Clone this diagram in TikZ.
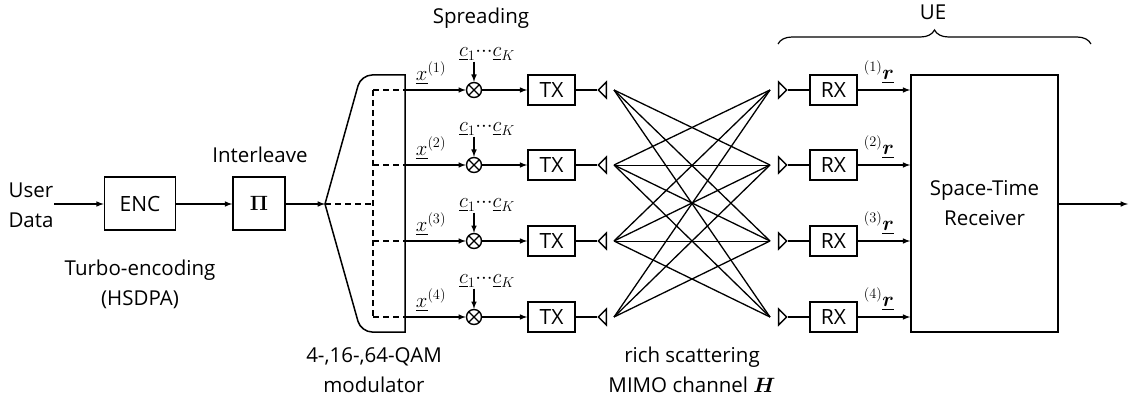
\documentclass[tikz,border=0pt]{standalone}
\usepackage{amsmath, amssymb}
\usepackage{fontspec}
\setmainfont{Open Sans}
\usetikzlibrary{arrows}
\usetikzlibrary{shapes.geometric}
\usetikzlibrary{decorations.pathreplacing}
\tikzset{
        wire/.style={line width=1.5pt},
        wire_dashed/.style={line width=1.5pt, dash pattern=on 6pt off 4pt},
        node_text/.style={align=center,inner sep=0pt,font=\fontsize{20.5}{30}\selectfont},
        node_math/.style={inner sep=0pt,font=\fontsize{20}{22}\selectfont},
        % Processing blocks
        node_box/.style={rectangle, draw=black, line width=1.6pt, fill=white, inner sep=0pt, minimum width=47pt, minimum height=30pt, font=\fontsize{21}{24}\selectfont},
        % Code multiplier
        node_mixer/.style={circle, draw=black, line width=1.4pt, fill=white, inner sep=0pt, minimum size=15pt,
            path picture={\draw[line width=1.2pt] (path picture bounding box.north west) -- (path picture bounding box.south east)
                (path picture bounding box.north east) -- (path picture bounding box.south west);}},
        % Antennas
        node_antenna/.style={isosceles triangle, isosceles triangle apex angle=90, draw=black, line width=1.4pt, fill=white, inner sep=0pt, minimum height=8pt, minimum width=15pt}
}
\begin{document}
\begin{tikzpicture}[x=1pt, y=-1pt, >=latex, wire]
    \useasboundingbox (0,0) rectangle (1135,401);

    % Encoder chain
    \node[node_text] (user) at (31,205) {User\\Data};
    \node[node_box, minimum width=71pt, minimum height=53pt] (enc) at (140,203.5) {ENC};
    \node[node_box, minimum width=52pt, minimum height=53pt] (pi) at (259,203.5) {$\boldsymbol{\Pi}$};
    \coordinate (mod_tip) at (325,204);
    \coordinate (mod_split) at (373,204);
    \draw[->] (user.east |- mod_tip) -- (enc.west |- mod_tip);
    \draw[->] (enc.east |- mod_tip) -- (pi.west |- mod_tip);
    \draw[->] (pi.east |- mod_tip) -- (mod_tip);
    \draw (405,332) -- (405,75) [rounded corners=11pt] -- (361,75) [sharp corners] -- (mod_tip) [rounded corners=11pt] -- (361,332) [sharp corners] -- cycle;
    \draw[wire_dashed] (mod_tip) -- (mod_split);
    \draw[wire_dashed] (373,90) -- (373,317);

    % One row per antenna
    \foreach \y/\i in {90/1,165/2,241/3,317/4} {
        \coordinate (mod_out\i) at (405,\y);
        \node[node_mixer] (mix\i) at (474,\y) {};
        \node[node_box] (tx\i) at (551.5,\y) {TX};
        \node[node_antenna, shape border rotate=180] (atx\i) at (603,\y) {};
        \coordinate (ch_in\i) at (614,\y);
        \coordinate (ch_out\i) at (770,\y);
        \node[node_antenna] (arx\i) at (782,\y) {};
        \node[node_box] (rx\i) at (833.5,\y) {RX};
        \node[node_math] (x\i) at (431,\y-17) {$\underline{x}^{(\i)}$};
        \node[node_math] (c\i) at (487,\y-36) {$\underline{c}_1{\cdot}{\cdot}{\cdot}\underline{c}_K$};
        \node[node_math, anchor=south] (r\i) at (879,\y-6) {$^{(\i)}\underline{\boldsymbol{r}}$};
        \draw[wire_dashed] (373,\y) -- (mod_out\i);
        \draw[->] (mod_out\i) -- (mix\i);
        \draw[->] (mix\i) -- (tx\i);
        \draw[->] (c\i.south -| mix\i) -- (mix\i);
        \draw (tx\i) -- (atx\i.apex);
        \draw (arx\i.apex) -- (rx\i);
    }

    % Channel
    \foreach \i/\j in {1/2,1/3,1/4,2/1,2/3,2/4,3/1,3/2,3/4,4/1,4/2,4/3} {
        \draw[line width=1.3pt] (ch_in\i) -- (ch_out\j);
    }
    \foreach \i in {2,3} {
        \draw[line width=0.8pt] (ch_in\i) -- (ch_out\i);
    }

    % Receiver
    \node[node_box, minimum width=147pt, minimum height=257pt, align=center, font=\fontsize{20.5}{30}\selectfont] (recv) at (984.5,203.5) {Space-Time\\Receiver};
    \coordinate (out) at (1128,204);
    \foreach \i in {1,2,3,4} {
        \draw[->] (rx\i) -- (rx\i -| recv.west);
    }
    \draw[->] (recv.east |- out) -- (out);
    \coordinate (ue_left) at (778,44);
    \coordinate (ue_right) at (1091,44);
    \draw[line width=1.2pt, decorate, decoration={brace, amplitude=14pt}] (ue_left) -- (ue_right);

    % Labels
    \node[node_text] (ue) at (933,12) {UE};
    \node[node_text] (spreading) at (481,18) {Spreading};
    \node[node_text] (interleave) at (260,155) {Interleave};
    \node[node_text] (turbo) at (140,284) {Turbo-encoding\\(HSDPA)};
    \node[node_text] (qam) at (374,370) {4-,16-,64-QAM\\modulator};
    \node[node_text] (channel) at (692,370) {rich scattering\\MIMO channel $\boldsymbol{H}$};
\end{tikzpicture}
\end{document}
